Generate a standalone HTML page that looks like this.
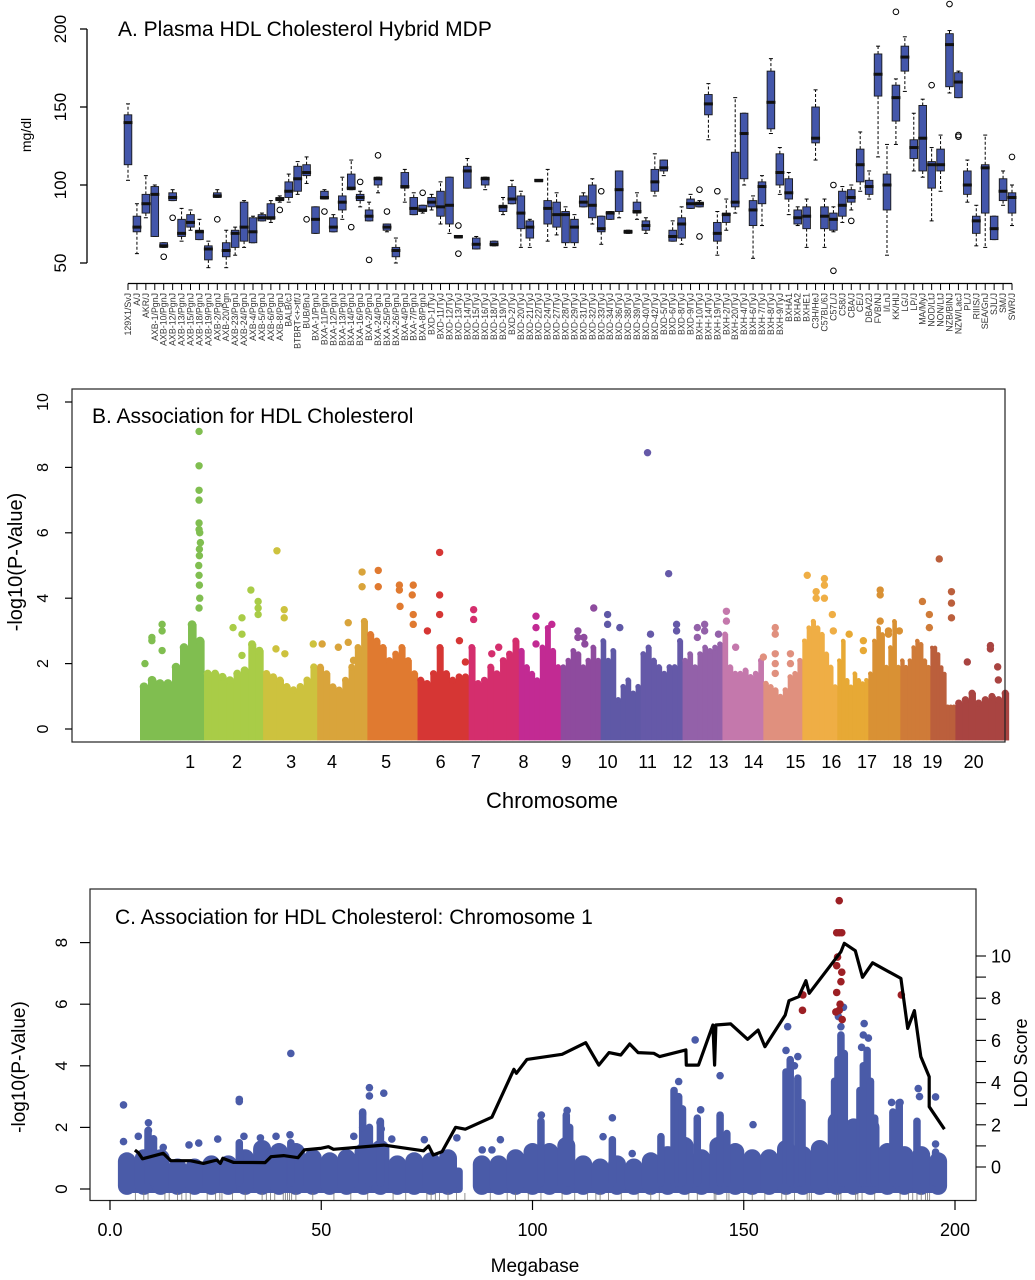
<!DOCTYPE html>
<html><head><meta charset="utf-8"><title>HDL Cholesterol</title>
<style>
html,body{margin:0;padding:0;background:#fff;}
svg{display:block;font-family:"Liberation Sans",Arial,sans-serif;}
</style></head>
<body>
<svg id="fig" width="1035" height="1280" viewBox="0 0 1035 1280" xmlns="http://www.w3.org/2000/svg">
<g id="pa"></g>
<g id="pb"></g>
<g id="pc"></g>
</svg>
<script>
// ---------------- Panel A data ----------------
const strains = ["129X1/SvJ","A/J","AKR/J","AXB-1/PgnJ","AXB-10/PgnJ","AXB-12/PgnJ","AXB-13/PgnJ","AXB-15/PgnJ","AXB-18/PgnJ","AXB-19/PgnJ","AXB-2/PgnJ","AXB-20/Pgn","AXB-23/PgnJ","AXB-24/PgnJ","AXB-4/PgnJ","AXB-5/PgnJ","AXB-6/PgnJ","AXB-8/PgnJ","BALB/cJ","BTBRT<+>tf/J","BUB/BnJ","BXA-1/PgnJ","BXA-11/PgnJ","BXA-12/PgnJ","BXA-13/PgnJ","BXA-14/PgnJ","BXA-16/PgnJ","BXA-2/PgnJ","BXA-24/PgnJ","BXA-25/PgnJ","BXA-26/PgnJ","BXA-4/PgnJ","BXA-7/PgnJ","BXA-8/PgnJ","BXD-1/TyJ","BXD-11/TyJ","BXD-12/TyJ","BXD-13/TyJ","BXD-14/TyJ","BXD-15/TyJ","BXD-16/TyJ","BXD-18/TyJ","BXD-19/TyJ","BXD-2/TyJ","BXD-20/TyJ","BXD-21/TyJ","BXD-22/TyJ","BXD-24/TyJ","BXD-27/TyJ","BXD-28/TyJ","BXD-29/TyJ","BXD-31/TyJ","BXD-32/TyJ","BXD-33/TyJ","BXD-34/TyJ","BXD-36/TyJ","BXD-38/TyJ","BXD-39/TyJ","BXD-40/TyJ","BXD-42/TyJ","BXD-5/TyJ","BXD-6/TyJ","BXD-8/TyJ","BXD-9/TyJ","BXH-10/TyJ","BXH-14/TyJ","BXH-19/TyJ","BXH-2/TyJ","BXH-20/TyJ","BXH-4/TyJ","BXH-6/TyJ","BXH-7/TyJ","BXH-8/TyJ","BXH-9/TyJ","BXHA1","BXHA2","BXHE1","C3H/HeJ","C57BL/6J","C57L/J","C58/J","CBA/J","CE/J","DBA/2J","FVB/NJ","I/LnJ","KK/HlJ","LG/J","LP/J","MA/MyJ","NOD/LtJ","NON/LtJ","NZB/BlNJ","NZW/LacJ","PL/J","RIIIS/J","SEA/GnJ","SJL/J","SM/J","SWR/J"];
const whiskerLow = [103,56,79,67,60,90,64,71,65,47,92,47,55,60,63,77,76,89,89,94,101,69,91,70,78,97,86,77,95,70,50,89,81,82,84,75,69,66,98,59,97,61,81,88,60,60,103,64,68,60,60,86,75,62,78,79,69,78,69,93,106,64,62,85,86,129,55,71,82,100,53,74,133,94,81,74,60,116,60,70,76,84,96,91,118,55,126,160,109,105,77,96,159,156,89,61,60,65,87,74];
const boxLow   = [113,70,82,67,60,90,67,73,65,52,92,54,60,64,63,77,78,90,92,96,106,69,91,70,84,97,90,77,100,71,54,98,81,83,86,80,75,66,98,59,100,61,83,88,72,66,103,75,73,63,63,86,79,70,78,83,69,82,71,96,109,64,66,85,86,145,64,76,86,104,74,88,136,100,91,75,72,127,72,71,80,89,102,94,157,84,141,173,117,109,98,109,163,156,94,69,82,65,90,82];
const medians  = [140,73,88,94,61,92,69,76,70,59,93,58,69,73,70,79,79,91,96,104,108,78,92,73,89,98,92,80,104,73,58,99,85,84,89,86,87,67,109,62,104,62,86,91,82,73,103,85,81,81,73,89,87,72,82,97,70,83,74,102,111,67,75,88,88,152,69,81,89,133,84,99,153,108,95,79,80,130,80,78,87,92,113,99,171,100,156,182,124,130,113,113,190,166,100,77,111,72,96,92];
const boxHigh  = [145,80,94,99,63,95,78,81,71,61,95,63,71,89,79,81,88,92,102,112,113,86,96,79,93,107,94,84,105,75,60,108,92,87,92,96,105,67,112,66,105,64,87,99,93,77,103,90,89,83,78,93,100,80,83,109,71,89,77,110,116,71,79,91,89,158,76,82,121,146,90,102,173,120,104,84,86,150,86,82,96,97,123,103,184,107,164,189,129,151,115,123,197,172,109,80,113,80,104,95];
const whiskerHigh = [152,88,106,100,63,97,85,84,78,64,97,71,73,90,80,82,90,93,107,115,118,86,97,81,105,116,96,89,105,75,66,110,95,87,94,102,105,67,117,67,105,64,92,103,96,78,103,110,95,86,81,95,104,80,83,109,71,95,79,120,116,77,86,94,90,165,83,91,156,146,93,106,181,124,108,86,91,161,91,86,99,100,134,109,189,126,168,195,146,155,124,132,199,173,116,87,132,80,109,100];
const outlierIdx = [4,5,10,17,20,22,25,26,27,28,29,33,37,37,53,64,64,66,79,79,81,86,90,92,93,93,99];
const outlierVal = [54,79,78,84,78,83,73,102,52,119,83,95,74,56,96,97,67,96,100,45,77,211,164,216,131,132,118];
const yTicksA = [50,100,150,200];

// ---------------- Panel B data ----------------
const chrNames = ["1","2","3","4","5","6","7","8","9","10","11","12","13","14","15","16","17","18","19","20"];
const chrLengths = [194,179,164,152,152,155,152,127,121,121,127,121,124,118,106,94,97,91,76,161];
const chrLabelPos = [152,100,85,45,57,70,22,14,17,21,21,0,-12,-30,-21,-18,-4,6,6,55];
const chrColors = ["#80be50","#a9cc47","#cdc23e","#d9a43b","#e07a30","#d63634","#d42e6d","#c22a93","#8e4b9e","#5f58a6","#6559a8","#9361a9","#c478ac","#e0907e","#efae45","#e7a935","#d99134","#cf7b38","#bb5f3c","#a94441"];
const bandHeights = [
 [1.4,1.6,1.5,1.5,2.0,2.6,3.3,2.8],[1.8,1.8,1.7,1.6,1.8,1.9,2.7,2.5],[1.8,1.7,1.6,1.4,1.3,1.4,1.6,2.0],
 [2.0,1.8,1.4,1.3,1.6,2.0,2.6,3.4],[3.0,2.8,2.6,2.2,2.4,2.6,2.2,1.8],[1.6,1.5,1.8,2.6,1.8,1.6,1.7,1.7],
 [2.6,1.5,1.6,2.0,1.8,2.2,2.4,2.8],[2.5,2.0,1.8,1.6,2.6,3.2,2.5,2.0],[2.0,2.2,2.5,2.4,2.0,2.2,2.6,2.2],
 [2.8,2.2,2.5,1.0,1.4,1.6,1.2,1.4],[2.4,2.6,2.2,2.0,1.8,2.0,2.0,2.8],[2.2,2.4,2.0,2.4,2.6,2.5,2.6,2.7],
 [3.0,2.0,1.8,1.8,1.9,1.7,1.8,2.2],[1.5,1.4,1.3,1.1,1.3,1.7,1.8,2.2],[2.8,3.2,3.4,3.2,3.0,2.4,2.0,1.4],
 [2.2,2.8,1.6,1.4,1.8,1.6,1.5,1.6],[1.8,2.8,3.2,3.0,2.0,2.6,3.4,2.0],[2.2,2.0,2.2,2.6,2.8,2.7,2.2,2.0],
 [2.6,2.6,2.4,2.0,1.8,0.8,0.8,0.8],[0.9,1.0,1.2,0.9,1.0,1.1,1.0,1.2]];
const hitChr = [0,0,0,0,0,0,0,0,0,0,0,0,0,0,0,0,0,0,0,0,0, 1,1,1,1,1,1,1,1, 2,2,2,2,2,2, 3,3,3,3,3,3,3, 4,4,4,4,4,4,4,4,4, 5,5,5,5,5,5, 6,6,6,6, 7,7,7,7, 8,8,8,8,8, 9,9,9, 10,10,10,10,10, 11,11,11,11,11, 12,12,12, 13,13,13,13,13,13,13,13, 14,14,14,14,14,14,14,14, 15,15,15, 16,16,16,16,16,16, 17,17,17, 18,18,18,18, 19,19,19,19,19];
const hitMb  = [179,179,179,179,179,179,181,183,180,178,67,67,67,36,36,15,179,180,181,179,180, 142,164,164,164,115,115,115,88, 42,64,64,39,66,152, 15,94,94,64,110,136,136, 136,33,33,97,97,99,139,139,139, 67,67,67,30,127,145, 15,15,91,70, 52,52,52,100, 100,52,52,70,73, 21,21,58, 21,85,30,109,109, 45,45,67,67,109, 12,12,40, 36,36,36,36,36,82,82,0, 15,67,67,67,42,42,91,94, 36,79,79, 36,36,36,61,61,94, 67,88,88, 27,64,64,64, 36,106,106,128,130];
const hitVal = [9.1,8.05,7.3,7.0,6.3,6.1,6.0,5.7,5.3,5.0,3.2,3.0,2.4,2.8,2.7,2.0,4.7,4.4,4.0,3.7,5.5, 4.25,3.9,3.7,3.5,3.4,2.9,2.25,3.1, 5.45,3.65,3.4,2.45,2.3,2.6, 2.6,3.25,2.65,2.5,2.1,4.8,4.35, 4.1,4.85,4.35,4.4,4.25,3.75,4.4,3.5,3.2, 5.4,4.1,3.5,3.0,2.7,2.05, 3.65,3.35,2.5,2.3, 3.45,3.1,2.6,3.2, 3.7,3.0,2.8,2.8,2.6, 3.5,3.2,3.1, 8.45,4.75,2.9,3.2,3.0, 3.1,2.8,3.2,3.0,2.9, 3.6,3.3,2.5, 3.1,2.9,2.3,2.0,1.7,2.3,2.0,2.2, 4.7,4.6,4.4,4.0,4.2,4.0,3.5,3.0, 2.9,2.4,2.7, 4.25,4.1,3.3,2.9,3.0,3.0, 3.9,3.5,3.1, 5.2,4.2,3.85,3.4, 2.05,2.55,2.45,1.9,1.5];
const yTicksB = [0,2,4,6,8,10];

// ---------------- Panel C data ----------------
const bandMb = [4,8,12,16,20,24,28,32,36,40,44,48,52,56,60,64,68,72,76,80,88,92,96,100,104,108,112,116,120,124,128,132,136,140,144,148,152,156,160,164,168,172,176,180,184,188,192,196];
const bandP  = [0.9,1.0,1.0,0.7,0.7,0.8,0.8,1.0,1.3,1.2,1.2,1.0,0.9,1.0,1.2,1.3,0.8,0.9,0.9,1.0,0.8,0.8,1.0,1.2,1.2,1.4,0.8,0.7,0.8,0.7,0.9,1.1,1.4,1.0,1.4,1.2,1.0,1.0,1.3,1.1,1.3,2.2,2.0,2.0,1.2,1.1,1.1,0.9];
const spikeMb = [9,10.3,30.6,42.8,59.8,61.4,64,102,108,108.8,118.9,130.4,133.5,134.6,135.5,139,144.4,146,160,161,162.8,163.8,171.5,172.3,173.0,173.8,177.5,178.3,179.2,180,181,185.3,186.8,191,195.4];
const spikeP  = [1.9,1.6,1.5,1.5,2.5,2.0,2.2,2.2,2.4,2.0,1.6,1.7,3.2,3.0,2.6,2.3,2.4,1.8,3.8,4.2,3.6,2.8,3.5,4.2,5.0,4.4,3.2,4.0,4.5,3.5,2.3,2.5,2.8,2.2,1.2];
const blueMb = [3.2,3.2,42.8,30.6,30.6,61.4,61.4,64.8,59.8,59.8,63.9,64.2,9.1,9.1,10.3,6.7,12.6,18.7,21.0,25.5,31.7,35.6,39.3,42.6,57.7,66.7,74.4,82.1,92.4,88.1,90.4,138.5,144.4,160.4,162.8,173.0,178.5,178.3,177.9,191.3,191.6,195.4,185.0,187.0,134.6,118.9,116.7,152.2,108.2,102.1,139.8,123.6,195.4,172.4,173.6,179.5,160.0,162.0];
const blueP  = [2.73,1.54,4.4,2.91,2.84,3.29,3.02,3.11,2.44,2.0,2.15,1.95,2.15,1.9,1.63,1.71,1.35,1.43,1.49,1.62,1.71,1.66,1.71,1.76,1.71,1.62,1.6,1.66,1.6,1.27,1.27,4.84,3.68,5.27,4.3,5.27,5.37,5.0,4.6,3.26,3.0,2.99,2.81,2.81,3.49,2.31,1.7,2.09,2.55,2.4,2.57,1.15,1.46,5.6,5.9,4.9,4.5,4.0];
const redMb = [172.6,172.0,172.6,173.2,172.2,172.0,173.2,173.0,172.0,172.8,171.8,172.6,173.3,164.0,163.9,187.3];
const redP  = [9.36,8.32,8.32,8.32,7.53,7.25,7.04,6.73,6.38,6.0,5.75,5.8,5.5,6.3,5.8,6.3];
const lodMb = [5.9,6.7,7.7,12.6,14.4,19.0,22.1,25.3,26.1,26.7,29.2,36.7,38.1,41.1,44.5,46.0,49.8,51.7,52.9,64.8,74.2,75.4,76.5,78.6,81.8,84.1,90.4,95.6,96.2,98.7,107.0,112.6,115.7,118.1,120.9,123.0,125.0,128.7,130.1,136.3,136.4,139.3,142.7,143.1,143.4,146.9,150.9,153.4,155.0,159.8,160.7,163.0,164.7,165.5,173.0,173.8,176.4,178.1,180.5,187.2,188.8,190.4,191.9,193.9,193.9,197.5];
const lodVal = [0.8,0.68,0.39,0.65,0.3,0.3,0.17,0.33,0.17,0.41,0.22,0.21,0.49,0.54,0.44,0.81,0.88,0.96,0.84,1.04,0.77,1.0,0.57,0.73,1.88,1.79,2.36,4.63,4.44,5.10,5.34,5.89,4.83,5.42,5.31,5.83,5.42,5.39,5.23,5.55,4.83,4.83,6.73,4.83,6.73,6.78,6.05,6.49,5.70,7.20,7.88,8.07,8.83,8.23,10.2,10.6,10.25,8.99,9.68,8.94,6.57,7.41,5.23,4.28,2.86,1.79];
const rugMb = [6,8,9,13,14,16,17,18,19,23,25,26,26.5,29,32,36,37,38,39,41,41.5,42,42.5,43,44,48,53,57,61,67,70,75,76,77,78,80,82,84,90,94,96,99,102,107,110,113,115,116,118,121,125,128,130,137,139,143,143.4,146,146.5,150,152,155,159,160,162,165,165.5,166,172,172.4,173,176.5,177,178,181,187,189,190,191,192,193,193.5,194];
const gapStartMb = 83.5, gapEndMb = 86.5, firstMb = 2.5, lastMb = 197.8;
const xTicksC = [0,50,100,150,200];
const xTickLabelsC = ["0.0","50","100","150","200"];
const yTicksC = [0,2,4,6,8];
const lodTicks = [0,1,2,3,4,5,6,7,8,9,10];
const lodLabels = [0,2,4,6,8,10];

// ---------------- helpers ----------------
const NS = "http://www.w3.org/2000/svg";
function mk(parent, tag, attrs, text){
  const e = document.createElementNS(NS, tag);
  for (const k in attrs) e.setAttribute(k, attrs[k]);
  if (text !== undefined) e.textContent = text;
  parent.appendChild(e);
  return e;
}

// ================= Panel A =================
const pa = document.getElementById('pa');
const yA = v => 263 - (v - 50) * 1.56;
const xA = i => 128 + i * (884 / (strains.length - 1));

let t = mk(pa,'text',{x:118,y:36,'font-size':21,fill:'#000'},'A. Plasma HDL Cholesterol Hybrid MDP');


t = mk(pa,'text',{x:31,y:135,'font-size':14,'text-anchor':'middle',transform:'rotate(-90 31 135)'},'mg/dl');


let ax = mk(pa,'line',{x1:87,x2:87,y1:yA(50),y2:yA(200),stroke:'#000','stroke-width':1.3});


yTicksA.forEach(v=>{
  const l = mk(pa,'line',{x1:80,x2:87,y1:yA(v),y2:yA(v),stroke:'#000','stroke-width':1.3});
  
  
  const tx = mk(pa,'text',{x:66,y:yA(v),'font-size':17,'text-anchor':'middle',transform:`rotate(-90 66 ${yA(v)})`},String(v));
  
  
});
ax = mk(pa,'line',{x1:xA(0),x2:xA(strains.length-1),y1:283.5,y2:283.5,stroke:'#000','stroke-width':1.3});


strains.forEach((s,i)=>{
  const x = xA(i);
  const tk = mk(pa,'line',{x1:x,x2:x,y1:283.5,y2:290,stroke:'#000','stroke-width':1});
  
  
  const lb = mk(pa,'text',{x:x+3,y:293,'font-size':8.8,fill:'#333','text-anchor':'end',transform:`rotate(-90 ${x+3} 293)`},s);
  
  
  const g = mk(pa,'g',{});
  
  
  mk(g,'line',{x1:x,x2:x,y1:yA(boxHigh[i]),y2:yA(whiskerHigh[i]),stroke:'#000','stroke-width':1,'stroke-dasharray':'3,2'});
  mk(g,'line',{x1:x,x2:x,y1:yA(boxLow[i]),y2:yA(whiskerLow[i]),stroke:'#000','stroke-width':1,'stroke-dasharray':'3,2'});
  mk(g,'line',{x1:x-2,x2:x+2,y1:yA(whiskerHigh[i]),y2:yA(whiskerHigh[i]),stroke:'#000','stroke-width':1});
  mk(g,'line',{x1:x-2,x2:x+2,y1:yA(whiskerLow[i]),y2:yA(whiskerLow[i]),stroke:'#000','stroke-width':1});
  const h = Math.max(yA(boxLow[i]) - yA(boxHigh[i]), 1.5);
  mk(g,'rect',{x:x-3.8,y:yA(boxHigh[i]),width:7.6,height:h,fill:'#4356aa',stroke:'#1a1a1a','stroke-width':0.9});
  mk(g,'line',{x1:x-4.5,x2:x+4.5,y1:yA(medians[i]),y2:yA(medians[i]),stroke:'#111','stroke-width':3});
});
outlierIdx.forEach((i,k)=>{
  const c = mk(pa,'circle',{cx:xA(i),cy:yA(outlierVal[k]),r:2.8,fill:'none',stroke:'#000','stroke-width':1});
  
  
});

// ================= Panel B =================
const pb = document.getElementById('pb');
const yB = v => 729 - v * 32.7;
const xB = mb => 140 + mb * 0.33;
const chrStart = [];
{let acc=0; chrLengths.forEach(L=>{chrStart.push(acc); acc+=L;});}
chrLengths.forEach((L,c)=>{
  const g = mk(pb,'g',{fill:chrColors[c]});
  
  
  const n = bandHeights[c].length, w = L/n;
  bandHeights[c].forEach((h,k)=>{
    const x0 = xB(chrStart[c] + k*w), x1 = xB(chrStart[c] + (k+1)*w);
    mk(g,'rect',{x:x0,y:yB(h)+3,width:x1-x0+0.6,height:yB(-0.35)-yB(h)-3});
    mk(g,'circle',{cx:(x0+x1)/2,cy:yB(h)+3.5,r:(x1-x0)/2+0.3});
  });
});
hitChr.forEach((c,k)=>{
  const d = mk(pb,'circle',{cx:xB(chrStart[c]+hitMb[k]),cy:yB(hitVal[k]),r:3.7,fill:chrColors[c]});
  
  
});
let fr = mk(pb,'rect',{x:72,y:389,width:933,height:353,fill:'none',stroke:'#222','stroke-width':1.2});


t = mk(pb,'text',{x:92,y:423,'font-size':21},'B. Association for HDL Cholesterol');


yTicksB.forEach(v=>{
  const l = mk(pb,'line',{x1:65,x2:72,y1:yB(v),y2:yB(v),stroke:'#000','stroke-width':1.2});
  
  
  const tx = mk(pb,'text',{x:48,y:yB(v),'font-size':16,'text-anchor':'middle',transform:`rotate(-90 48 ${yB(v)})`},String(v));
  
  
});
t = mk(pb,'text',{x:22,y:562,'font-size':20,'text-anchor':'middle',transform:'rotate(-90 22 562)'},'-log10(P-Value)');


chrNames.forEach((nm,c)=>{
  const x = xB(chrStart[c] + chrLabelPos[c]);
  const tx = mk(pb,'text',{x:x,y:768,'font-size':18,'text-anchor':'middle'},nm);
  
  
});
t = mk(pb,'text',{x:552,y:808,'font-size':22,'text-anchor':'middle'},'Chromosome');



// ================= Panel C =================
const pc = document.getElementById('pc');
const yC = v => 1189 - v * 30.8;
const xC = mb => 110 + mb * 4.225;
const yL = v => 1167 - v * 21.1;
const BLUE = '#4a5ba8';
const bandG = mk(pc,'g',{stroke:BLUE,'stroke-linecap':'round'});


mk(bandG,'rect',{x:xC(firstMb),y:yC(0.7),width:xC(gapStartMb)-xC(firstMb),height:1193-yC(0.7),fill:BLUE,stroke:'none',rx:4});
mk(bandG,'rect',{x:xC(gapEndMb),y:yC(0.7),width:xC(lastMb)-xC(gapEndMb),height:1193-yC(0.7),fill:BLUE,stroke:'none',rx:4});
bandMb.forEach((m,k)=>{
  mk(bandG,'line',{x1:xC(m),x2:xC(m),y1:yC(0.1),y2:yC(bandP[k]),'stroke-width':18});
});
spikeMb.forEach((m,k)=>{
  mk(bandG,'line',{x1:xC(m),x2:xC(m),y1:yC(0.2),y2:yC(spikeP[k]),'stroke-width':7.5});
});
blueMb.forEach((m,k)=>{
  const d = mk(pc,'circle',{cx:xC(m),cy:yC(blueP[k]),r:3.8,fill:BLUE});
  
  
});
redMb.forEach((m,k)=>{
  const d = mk(pc,'circle',{cx:xC(m),cy:yC(redP[k]),r:3.8,fill:'#9c1f24'});
  
  
});
let pts = lodMb.map((m,k)=>xC(m).toFixed(1)+','+yL(lodVal[k]).toFixed(1)).join(' ');
let pl = mk(pc,'polyline',{points:pts,fill:'none',stroke:'#000','stroke-width':3.2,'stroke-linejoin':'round'});


rugMb.forEach(m=>{
  const r = mk(pc,'line',{x1:xC(m),x2:xC(m),y1:1193,y2:1200,stroke:'#777','stroke-width':0.8});
  
  
});
fr = mk(pc,'rect',{x:90,y:889,width:886,height:311.5,fill:'none',stroke:'#222','stroke-width':1.2});


t = mk(pc,'text',{x:115,y:924,'font-size':21},'C. Association for HDL Cholesterol: Chromosome 1');


yTicksC.forEach(v=>{
  const l = mk(pc,'line',{x1:80,x2:90,y1:yC(v),y2:yC(v),stroke:'#000','stroke-width':1.2});
  
  
  const tx = mk(pc,'text',{x:67,y:yC(v),'font-size':17,'text-anchor':'middle',transform:`rotate(-90 67 ${yC(v)})`},String(v));
  
  
});
t = mk(pc,'text',{x:25,y:1067,'font-size':19,'text-anchor':'middle',transform:'rotate(-90 25 1067)'},'-log10(P-Value)');


xTicksC.forEach((v,k)=>{
  const l = mk(pc,'line',{x1:xC(v),x2:xC(v),y1:1200,y2:1210,stroke:'#000','stroke-width':1.2});
  
  
  const tx = mk(pc,'text',{x:xC(v),y:1236,'font-size':18,'text-anchor':'middle'},xTickLabelsC[k]);
  
  
});
t = mk(pc,'text',{x:535,y:1272,'font-size':19,'text-anchor':'middle'},'Megabase');


lodTicks.forEach(v=>{
  const l = mk(pc,'line',{x1:976,x2:986,y1:yL(v),y2:yL(v),stroke:'#000','stroke-width':1.1});
  
  
});
lodLabels.forEach(v=>{
  const tx = mk(pc,'text',{x:991,y:yL(v)+6.5,'font-size':18},String(v));
  
  
});
t = mk(pc,'text',{x:1027,y:1063,'font-size':18,'text-anchor':'middle',transform:'rotate(-90 1027 1063)'},'LOD Score');


</script>
</body></html>
